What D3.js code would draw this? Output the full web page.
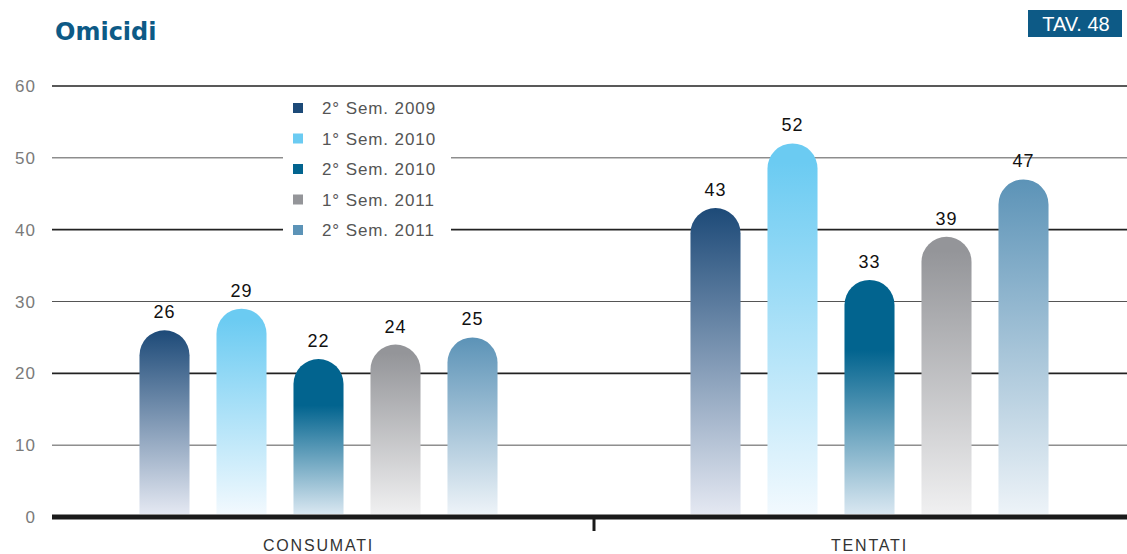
<!DOCTYPE html>
<html>
<head>
  <title>Omicidi</title>
  <script src="https://cdn.jsdelivr.net/npm/d3@7"></script>
  <style>
    body { margin: 0; background: #fff; font-family: "Liberation Sans", Arial, sans-serif; }
  </style>
</head>
<body>
  <div id="chart"></div>
  <script>
    // data
    const categories = ["CONSUMATI", "TENTATI"];
    const series = ["2° Sem. 2009", "1° Sem. 2010", "2° Sem. 2010", "1° Sem. 2011", "2° Sem. 2011"];
    const values = {
      "2° Sem. 2009": [26, 43],
      "1° Sem. 2010": [29, 52],
      "2° Sem. 2010": [22, 33],
      "1° Sem. 2011": [24, 39],
      "2° Sem. 2011": [25, 47]
    };
    const yTicks = [0, 10, 20, 30, 40, 50, 60];

    const topColors = ["#1d4a78", "#6bcbf2", "#02648f", "#949599", "#5c93b7"];
    const bottomColors = ["#e4e8f2", "#f2f9fe", "#d9e7f1", "#f0f0f1", "#edf3f8"];
    const holdTop = [0, 0.05, 0.3, 0.05, 0];   // how long the top colour stays solid

    const W = 1127, H = 554;
    const svg = d3.select("#chart").append("svg")
      .attr("width", W).attr("height", H);

    const y = d3.scaleLinear().domain([0, 60]).range([517, 86]);
    const x0 = d3.scaleBand().domain(categories).range([43, 1145]);
    const x1 = d3.scaleBand().domain(series).range([-192.5, 192.5])
      .paddingInner(0.35).paddingOuter(0.175);

    // gradients
    const defs = svg.append("defs");
    series.forEach((s, i) => {
      const g = defs.append("linearGradient").attr("id", "g" + i)
        .attr("x1", 0).attr("y1", 0).attr("x2", 0).attr("y2", 1);
      g.append("stop").attr("offset", "0%").attr("stop-color", topColors[i]);
      g.append("stop").attr("offset", holdTop[i]).attr("stop-color", topColors[i]);
      g.append("stop").attr("offset", "100%").attr("stop-color", bottomColors[i]);
    });

    // title
    svg.append("text").attr("x", 55).attr("y", 40)
      .attr("font-family", "'DejaVu Sans', sans-serif")
      .attr("font-size", 24).attr("font-weight", "bold")
      .attr("fill", "#0d5a86")
      .text("Omicidi");
    svg.append("rect").attr("x", 1028).attr("y", 10).attr("width", 94).attr("height", 27)
      .attr("fill", "#0d5a86");
    svg.append("text").attr("x", 1076).attr("y", 31).attr("text-anchor", "middle")
      .attr("font-size", 20).attr("fill", "#fff").text("TAV. 48");

    // grid
    const grid = svg.append("g");
    yTicks.filter(d => d > 0).forEach(d => {
      grid.append("line").attr("x1", 52).attr("x2", W)
        .attr("y1", y(d)).attr("y2", y(d))
        .attr("stroke", d % 20 === 0 ? "#222" : "#555")
        .attr("stroke-width", d % 20 === 0 ? 1.6 : 1);
    });
    svg.append("g").selectAll("text").data(yTicks).join("text")
      .attr("x", 36).attr("y", d => y(d) + 6).attr("text-anchor", "end")
      .attr("font-size", 17).attr("letter-spacing", 1).attr("fill", "#7a7a7a").text(d => d);

    // legend background
    svg.append("rect").attr("x", 283).attr("y", 93).attr("width", 168).attr("height", 150)
      .attr("fill", "#fff");

    // bars
    const barPath = (xl, w, top, bottom) => {
      const r = w / 2;
      return `M${xl},${bottom} L${xl},${top + r} A${r},${r} 0 0 1 ${xl + w},${top + r} L${xl + w},${bottom} Z`;
    };
    categories.forEach((c, ci) => {
      const cx = x0(c) + x0.bandwidth() / 2;
      series.forEach((s, si) => {
        const v = values[s][ci];
        const xl = cx + x1(s);
        const w = x1.bandwidth();
        svg.append("path")
          .attr("d", barPath(xl, w, y(v), y(0) - 3))
          .attr("fill", `url(#g${si})`);
        svg.append("text").attr("x", xl + w / 2).attr("y", y(v) - 12)
          .attr("text-anchor", "middle").attr("font-size", 18).attr("letter-spacing", 1)
          .attr("fill", "#111")
          .text(v);
      });
    });

    // baseline and axis
    svg.append("line").attr("x1", 52).attr("x2", W).attr("y1", y(0)).attr("y2", y(0))
      .attr("stroke", "#1a1a1a").attr("stroke-width", 5);
    svg.append("line").attr("x1", x0("TENTATI")).attr("x2", x0("TENTATI"))
      .attr("y1", y(0)).attr("y2", y(0) + 14)
      .attr("stroke", "#1a1a1a").attr("stroke-width", 3);
    svg.append("g").selectAll("text").data(categories).join("text")
      .attr("x", d => x0(d) + x0.bandwidth() / 2).attr("y", 551)
      .attr("text-anchor", "middle").attr("font-size", 16).attr("letter-spacing", 1.8)
      .attr("fill", "#333")
      .text(d => d);

    // legend
    const leg = svg.append("g").attr("transform", "translate(293,108)");
    series.forEach((s, i) => {
      const row = leg.append("g").attr("transform", `translate(0,${i * 30.5})`);
      row.append("rect").attr("x", 0).attr("y", -5).attr("width", 10).attr("height", 10)
        .attr("fill", topColors[i]);
      row.append("text").attr("x", 29).attr("y", 6).attr("font-size", 17)
        .attr("letter-spacing", 0.9)
        .attr("fill", "#555").text(s);
    });
  </script>
</body>
</html>
